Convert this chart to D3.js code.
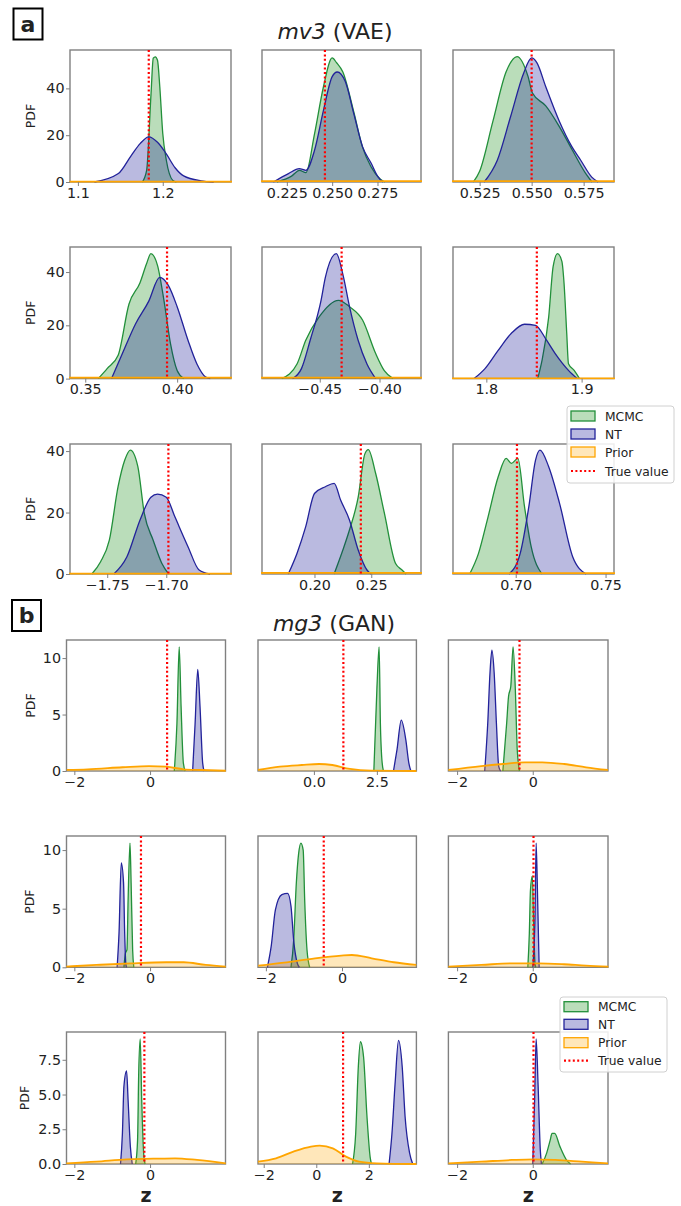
<!DOCTYPE html>
<html><head><meta charset="utf-8">
<script src="https://cdn.jsdelivr.net/npm/d3@7"></script>
<style>
body{margin:0;background:#fff}
svg{display:block}
text{font-family:"DejaVu Sans",sans-serif;fill:#222}
</style>
</head><body>
<svg id="c" width="681" height="1206"></svg>
<script>
// ---------------- DATA ----------------
const legendLabels = ["MCMC","NT","Prior","True value"];
const titleA = ["mv3"," (VAE)"];
const titleB = ["mg3"," (GAN)"];

// Panel a (mv3, VAE)
const aXDomains = [[1.0907,1.2804],[0.2113,0.299],[0.5122,0.5896],
                   [0.3417,0.4293],[-0.4983,-0.3653],[1.765,1.934],
                   [-1.7815,-1.6452],[0.1538,0.2938],[0.6651,0.7547]];
const aXTicks = [[1.1,1.2],[0.225,0.25,0.275],[0.525,0.55,0.575],
                 [0.35,0.40],[-0.45,-0.40],[1.8,1.9],
                 [-1.75,-1.70],[0.20,0.25],[0.70,0.75]];
const aXTickLabels = [["1.1","1.2"],["0.225","0.250","0.275"],["0.525","0.550","0.575"],
                      ["0.35","0.40"],["−0.45","−0.40"],["1.8","1.9"],
                      ["−1.75","−1.70"],["0.20","0.25"],["0.70","0.75"]];
const aYMax = [56.4,49.4,42.3];
const aYTicks = [[0,20,40],[0,20,40],[0,20,40]];
const aYTickLabels = [["0","20","40"],["0","20","40"],["0","20","40"]];
const aTrue = [1.1835,0.246,0.55,0.3945,-0.4317,1.853,-1.6982,0.2408,0.7007];

const aMCMC = [
 [[1.1759,0],[1.181,5],[1.1862,37.9],[1.1888,52.9],[1.1912,53.5],[1.1938,52],[1.1965,40.7],[1.2,20.7],[1.2042,9.3],[1.2118,0.7],[1.216,0]],
 [[0.2195,0],[0.2276,2.5],[0.232,5],[0.2355,4],[0.2403,20.7],[0.2452,40.7],[0.25,53],[0.2524,51],[0.2559,47],[0.2619,30],[0.2667,15],[0.2715,6.4],[0.2763,1.4],[0.279,0]],
 [[0.522,0],[0.525,4.6],[0.5314,26],[0.5377,47],[0.543,53.6],[0.5483,45],[0.5504,38],[0.5568,32.5],[0.5631,24],[0.5694,13.9],[0.5758,3.9],[0.579,0]],
 [[0.3571,0],[0.3619,3.75],[0.3679,8.75],[0.3738,28],[0.3798,36],[0.3833,43],[0.3857,46.9],[0.3893,42.5],[0.3929,29],[0.3964,13],[0.4,3],[0.4036,0]],
 [[-0.4818,0],[-0.4689,5.6],[-0.4617,14.4],[-0.4508,23],[-0.4343,29.4],[-0.4251,27],[-0.4142,22],[-0.4032,9.4],[-0.396,3],[-0.3887,0]],
 [[1.8539,0],[1.8585,6.9],[1.8654,23],[1.8701,42],[1.8747,46.9],[1.8793,44],[1.8816,35.6],[1.8844,16.9],[1.8862,5.6],[1.8922,3.1],[1.8978,0]],
 [[-1.763,0],[-1.7556,4],[-1.7482,11],[-1.7408,28.4],[-1.7352,37],[-1.7304,40.3],[-1.7241,35],[-1.7186,19.7],[-1.7111,11],[-1.7038,3.5],[-1.698,0]],
 [[0.2173,0],[0.225,7.8],[0.2308,14.3],[0.2385,25],[0.2443,39],[0.2474,40.5],[0.2539,32.7],[0.2616,19.7],[0.2713,3.5],[0.2771,1.3],[0.2808,0]],
 [[0.6744,0],[0.6793,6.7],[0.6842,17.6],[0.6903,31.7],[0.6947,37.6],[0.6976,36],[0.7012,37.6],[0.7049,21.9],[0.7086,8.9],[0.7146,0]]
];
const aNT = [
 [[1.1195,0],[1.1477,3.6],[1.163,11.4],[1.1733,16.4],[1.1835,19.3],[1.1938,17],[1.2042,12],[1.2145,6.1],[1.2246,2.6],[1.245,0.5],[1.26,0]],
 [[0.2176,0],[0.2259,3.6],[0.2319,5.7],[0.2355,5],[0.2403,13.6],[0.2452,30.6],[0.25,45],[0.2528,47],[0.2572,43],[0.262,29],[0.2668,15],[0.2716,7.9],[0.2752,2.3],[0.278,0]],
 [[0.5272,0],[0.5335,9.3],[0.5399,28],[0.5462,46.6],[0.55,53],[0.5525,51],[0.5568,40.7],[0.5631,26.4],[0.5694,15],[0.5736,9.3],[0.5789,2.1],[0.582,0]],
 [[0.3643,0],[0.3702,9.4],[0.3774,20.6],[0.3845,29],[0.3905,38],[0.3952,35],[0.4,27],[0.4059,14.4],[0.4107,5.6],[0.4155,0.6],[0.418,0]],
 [[-0.4727,0],[-0.4653,3.75],[-0.458,14.4],[-0.4489,29.4],[-0.4453,38],[-0.4361,46.9],[-0.4306,39],[-0.4251,27],[-0.4179,14.4],[-0.4106,5.6],[-0.4032,0]],
 [[1.7871,0],[1.7986,3.75],[1.8124,10.6],[1.8263,17],[1.8401,20.4],[1.8516,20],[1.8632,14.4],[1.8723,9.4],[1.8862,3.1],[1.8954,0]],
 [[-1.7444,0],[-1.7333,5.6],[-1.7222,17.6],[-1.713,25],[-1.7074,26],[-1.7,25],[-1.6927,18.6],[-1.6816,8.9],[-1.6722,1.3],[-1.663,0]],
 [[0.1769,0],[0.1846,6.7],[0.1923,15.4],[0.2,26.2],[0.2096,28.4],[0.2173,29.5],[0.2231,24],[0.2308,17.6],[0.2385,7.8],[0.2462,1.3],[0.25,0]],
 [[0.6963,0],[0.7025,6.7],[0.7073,21.9],[0.711,37],[0.7135,40.3],[0.7183,35],[0.7244,23],[0.7317,5.6],[0.7391,0]]
];
const aPrior = [
 [[1.09,0.2],[1.29,0.2]],[[0.21,0.39],[0.30,0.39]],[[0.51,0.34],[0.59,0.34]],
 [[0.34,0.37],[0.43,0.37]],[[-0.50,0.36],[-0.36,0.36]],[[1.76,0.07],[1.94,0.07]],
 [[-1.79,0.09],[-1.64,0.09]],[[0.15,0.39],[0.30,0.39]],[[0.66,0.31],[0.76,0.31]]
];

// Panel b (mg3, GAN)
const bXDomains = [[-2.207,1.993],[-2.22,4.07],[-2.23,1.99],
                   [-2.207,1.993],[-2.207,1.954],[-2.23,1.99],
                   [-2.207,1.993],[-2.217,3.81],[-2.23,1.99]];
const bXTicks = [[-2,0],[0,2.5],[-2,0],[-2,0],[-2,0],[-2,0],[-2,0],[-2,0,2],[-2,0]];
const bXTickLabels = [["−2","0"],["0.0","2.5"],["−2","0"],["−2","0"],["−2","0"],["−2","0"],["−2","0"],["−2","0","2"],["−2","0"]];
const bYMax = [11.6,11.2,9.5];
const bYTicks = [[0,5,10],[0,5,10],[0,2.5,5,7.5]];
const bYTickLabels = [["0","5","10"],["0","5","10"],["0.0","2.5","5.0","7.5"]];
const bTrue = [0.45,1.17,-0.35,-0.24,-0.48,0.02,-0.15,1.02,0.02];

const bMCMC = [
 [[0.64,0],[0.71,4.2],[0.77,11],[0.82,5.7],[0.88,0.7],[0.93,0]],
 [[2.38,0],[2.5,7.2],[2.59,11],[2.64,4.2],[2.69,1.3],[2.76,0]],
 [[-0.79,0],[-0.69,4.2],[-0.64,6.6],[-0.58,7.5],[-0.52,11],[-0.46,7.2],[-0.41,1.9],[-0.35,0]],
 [[-0.69,0],[-0.65,1.2],[-0.61,1.5],[-0.58,5.7],[-0.53,10.6],[-0.5,7.2],[-0.46,1.5],[-0.43,0]],
 [[-1.34,0],[-1.27,2.3],[-1.2,7.2],[-1.14,9.7],[-1.08,10.6],[-1.02,10],[-0.98,5.7],[-0.92,1.5],[-0.85,0]],
 [[-0.13,0],[-0.09,2.9],[-0.06,6.6],[-0.01,7.8],[0.02,4.3],[0.06,0.3],[0.08,0]],
 [[-0.38,0],[-0.33,1.7],[-0.3,6.5],[-0.26,9.0],[-0.22,4.6],[-0.17,0.8],[-0.13,0]],
 [[1.38,0],[1.5,2.2],[1.6,7.0],[1.68,8.8],[1.8,7.7],[1.93,3.4],[2.05,0.5],[2.1,0]],
 [[0.25,0],[0.37,0.8],[0.46,1.7],[0.51,2.2],[0.58,2.2],[0.72,1.25],[0.89,0.3],[1.0,0]]
];
const bNT = [
 [[1.125,0],[1.19,4.2],[1.26,9.0],[1.32,5.7],[1.39,0.7],[1.43,0]],
 [[3.16,0],[3.3,1.9],[3.47,4.5],[3.65,2.75],[3.77,0.7],[3.85,0]],
 [[-1.27,0],[-1.19,4.2],[-1.13,8.7],[-1.08,10.7],[-1.02,8.7],[-0.96,4.2],[-0.9,0.4],[-0.85,0]],
 [[-0.87,0],[-0.82,2.9],[-0.76,8.9],[-0.7,7.2],[-0.67,2.9],[-0.64,0.3],[-0.62,0]],
 [[-1.96,0],[-1.86,1.8],[-1.75,4.9],[-1.58,6.2],[-1.43,6.3],[-1.34,5.2],[-1.27,2.3],[-1.17,0.3],[-1.12,0]],
 [[0.0,0],[0.06,4.3],[0.09,10.6],[0.13,5.7],[0.17,0]],
 [[-0.78,0],[-0.73,2.2],[-0.69,5.6],[-0.62,6.7],[-0.58,4.6],[-0.52,1.25],[-0.47,0]],
 [[2.77,0],[2.88,2.2],[3.0,5.8],[3.13,8.9],[3.27,7.0],[3.38,3.4],[3.55,0.8],[3.67,0]],
 [[0.0,0],[0.05,4.6],[0.09,9.0],[0.14,5.8],[0.2,1],[0.23,0]]
];
const bPrior = [
 [[-2.2,0.1],[-1.65,0.15],[-0.73,0.33],[-0.03,0.44],[0.43,0.38],[0.89,0.15],[1.35,0.09],[2.0,0.02]],
 [[-2.22,0.09],[-1.35,0.38],[-0.48,0.53],[0.21,0.62],[0.73,0.53],[1.43,0.18],[2.29,0.03],[4.07,0]],
 [[-2.23,0.09],[-1.36,0.44],[-0.79,0.62],[-0.21,0.77],[0.25,0.77],[0.83,0.62],[1.41,0.33],[1.99,0.09]],
 [[-2.21,0.06],[-1.42,0.2],[-0.5,0.34],[0.43,0.43],[0.89,0.43],[1.47,0.2],[2.0,0.06]],
 [[-2.2,0.14],[-1.52,0.4],[-0.71,0.77],[-0.02,1.0],[0.26,1.05],[0.78,0.77],[1.36,0.43],[1.95,0.2]],
 [[-2.23,0.06],[-1.36,0.2],[-0.55,0.34],[0.14,0.34],[0.83,0.26],[1.41,0.14],[2.0,0.06]],
 [[-2.21,0.05],[-1.42,0.17],[-0.61,0.34],[0.08,0.38],[0.66,0.41],[1.24,0.29],[2.0,0.05]],
 [[-2.22,0.17],[-1.53,0.41],[-0.87,0.89],[-0.2,1.25],[0.13,1.32],[0.63,1.13],[1.13,0.53],[1.63,0.17],[2.3,0.05],[3.81,0]],
 [[-2.23,0.05],[-1.36,0.17],[-0.55,0.29],[0.02,0.34],[0.6,0.29],[1.3,0.17],[1.99,0.05]]
];

// ---------------- STYLE / LAYOUT ----------------
const COL = {
  mcmc:{stroke:"#22903a", fill:"rgba(0,128,0,0.27)"},
  nt:{stroke:"#22229a", fill:"rgba(0,0,139,0.27)"},
  prior:{stroke:"#ffa500", fill:"rgba(255,165,0,0.27)"},
  truth:"#ff0000", frame:"#808080"
};
const layoutA = {left:[70,262,453], width:[161,159,161], top:[50,247,444], height:[132,131.6,130]};
const layoutB = {left:[66.5,258,448.4], width:[159,158.4,159.6], top:[640,836,1032], height:[131,131.3,132]};

const svg = d3.select("#c");
let clipId = 0;

function drawPanel(cfg){
  const g = svg.append("g").attr("transform",`translate(${cfg.x},${cfg.y})`);
  const x = d3.scaleLinear().domain(cfg.xDomain).range([0,cfg.w]);
  const y = d3.scaleLinear().domain([0,cfg.yMax]).range([cfg.h,0]);
  const id = "clip"+(clipId++);
  g.append("clipPath").attr("id",id).append("rect").attr("x",-1).attr("y",0).attr("width",cfg.w+2).attr("height",cfg.h+1);
  g.append("rect").attr("width",cfg.w).attr("height",cfg.h).attr("fill","none")
    .attr("stroke",COL.frame).attr("stroke-width",1.4);
  const plot = g.append("g").attr("clip-path",`url(#${id})`);
  const area = d3.area().x(d=>x(d[0])).y0(y(0)).y1(d=>y(d[1])).curve(d3.curveMonotoneX);
  const line = d3.line().x(d=>x(d[0])).y(d=>y(d[1])).curve(d3.curveMonotoneX);
  const series = [[cfg.mcmc,COL.mcmc,1.3],[cfg.nt,COL.nt,1.3],[cfg.prior,COL.prior,1.8]];
  series.forEach(([d,c,sw])=>{
    plot.append("path").datum(d).attr("d",area).attr("fill",c.fill).attr("stroke","none");
    plot.append("path").datum(d).attr("d",line).attr("fill","none").attr("stroke",c.stroke).attr("stroke-width",sw);
  });
  plot.append("line").attr("x1",x(cfg.truth)).attr("x2",x(cfg.truth)).attr("y1",0).attr("y2",cfg.h)
     .attr("stroke",COL.truth).attr("stroke-width",2.2).attr("stroke-dasharray","2,2.4");
  const ax = g.append("g").attr("transform",`translate(0,${cfg.h})`)
    .call(d3.axisBottom(x).tickValues(cfg.xTicks).tickFormat((d,i)=>cfg.xLabels[i]).tickSize(4).tickPadding(1.5));
  ax.select(".domain").remove();
  ax.selectAll("line").attr("stroke",COL.frame);
  ax.selectAll("text").attr("font-size",14.3).attr("font-family","DejaVu Sans").attr("fill","#222");
  if(cfg.yLabels){
    const ay = g.append("g")
      .call(d3.axisLeft(y).tickValues(cfg.yTicks).tickFormat((d,i)=>cfg.yLabels[i]).tickSize(4).tickPadding(1.5));
    ay.select(".domain").remove();
    ay.selectAll("line").attr("stroke",COL.frame);
    ay.selectAll("text").attr("font-size",14.3).attr("font-family","DejaVu Sans").attr("fill","#222");
    g.append("text").attr("transform",`translate(${cfg.pdfX},${cfg.h/2}) rotate(-90)`)
      .attr("text-anchor","middle").attr("font-size",12.5).text("PDF");
  }
  if(cfg.xTitle){
    g.append("text").attr("x",cfg.w/2).attr("y",cfg.h+37.5).attr("text-anchor","middle")
      .attr("font-size",19).attr("font-weight","bold").text(cfg.xTitle);
  }
}

function drawGroup(L, xD, xT, xL, yMax, yT, yL, truth, mc, nt, pr, pdfXs, xTitle){
  for(let i=0;i<9;i++){
    const r=Math.floor(i/3), c=i%3;
    drawPanel({x:L.left[c], y:L.top[r], w:L.width[c], h:L.height[r],
      xDomain:xD[i], xTicks:xT[i], xLabels:xL[i], yMax:yMax[r],
      yTicks:yT[r], yLabels: c===0 ? yL[r] : null, pdfX: pdfXs[r],
      truth:truth[i], mcmc:mc[i], nt:nt[i], prior:pr[i],
      xTitle: (xTitle && r===2) ? xTitle : null});
  }
}

drawGroup(layoutA,aXDomains,aXTicks,aXTickLabels,aYMax,aYTicks,aYTickLabels,aTrue,aMCMC,aNT,aPrior,[-35,-35,-35],null);
drawGroup(layoutB,bXDomains,bXTicks,bXTickLabels,bYMax,bYTicks,bYTickLabels,bTrue,bMCMC,bNT,bPrior,[-32,-33,-38],"z");

function title(t, cx, by){
  const tx = svg.append("text").attr("x",cx).attr("y",by).attr("text-anchor","middle").attr("font-size",22);
  tx.append("tspan").attr("font-style","italic").text(t[0]);
  tx.append("tspan").text(t[1]);
}
title(titleA,335,39);
title(titleB,334,631);

function letter(ch, x, y){
  svg.append("rect").attr("x",x).attr("y",y).attr("width",29).attr("height",31)
    .attr("fill","#fff").attr("stroke","#000").attr("stroke-width",2);
  svg.append("text").attr("x",x+14.5).attr("y",y+23).attr("text-anchor","middle")
    .attr("font-size",22).attr("font-weight","bold").attr("fill","#000").text(ch);
}
letter("a",13.5,8.5);
letter("b",12,600);

function legend(x,y,w,h,rowYs,patchX,textX){
  const g = svg.append("g");
  g.append("rect").attr("x",x).attr("y",y).attr("width",w).attr("height",h).attr("rx",3)
    .attr("fill","rgba(255,255,255,0.85)").attr("stroke","#d0d0d0").attr("stroke-width",1);
  const cols=[COL.mcmc,COL.nt,COL.prior];
  legendLabels.forEach((lab,i)=>{
    const cy = rowYs[i];
    if(i<3){
      g.append("rect").attr("x",patchX).attr("y",cy-5).attr("width",24).attr("height",10)
        .attr("fill",cols[i].fill).attr("stroke",cols[i].stroke).attr("stroke-width",1.3);
    } else {
      g.append("line").attr("x1",patchX).attr("x2",patchX+24).attr("y1",cy).attr("y2",cy)
        .attr("stroke",COL.truth).attr("stroke-width",2.2).attr("stroke-dasharray","2,2.4");
    }
    g.append("text").attr("x",textX).attr("y",cy+4.5).attr("font-size",12.3).text(lab);
  });
}
legend(567,406,107,77,[416,434,452,471],571,605);
legend(560,997,107,75,[1006.7,1024.3,1042.7,1060.7],564,598);
</script>
</body></html>
